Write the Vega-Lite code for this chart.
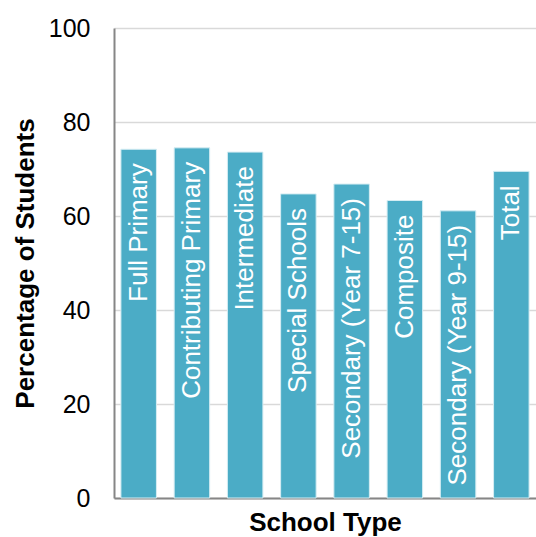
{
  "$schema": "https://vega.github.io/schema/vega-lite/v6.json",
  "autosize": {"type": "none"},
  "padding": {"left": 114, "top": 28, "right": 0, "bottom": 39},
  "width": 422,
  "height": 470,
  "background": "white",
  "config": {
    "font": "Liberation Sans",
    "view": {"stroke": null}
  },
  "data": {
    "values": [
      {"type": "Full Primary", "pct": 74.2},
      {"type": "Contributing Primary", "pct": 74.5},
      {"type": "Intermediate", "pct": 73.6},
      {"type": "Special Schools", "pct": 64.7},
      {"type": "Secondary (Year 7-15)", "pct": 66.8},
      {"type": "Composite", "pct": 63.3},
      {"type": "Secondary (Year 9-15)", "pct": 61.1},
      {"type": "Total", "pct": 69.5}
    ]
  },
  "encoding": {
    "x": {
      "field": "type",
      "type": "nominal",
      "sort": null,
      "scale": {"paddingInner": 0.333, "paddingOuter": 0.13},
      "axis": {
        "title": "School Type",
        "titleFont": "Liberation Sans",
        "titleFontSize": 26,
        "titleFontWeight": "bold",
        "titleColor": "#000000",
        "titleBaseline": "alphabetic",
        "titleY": 32,
        "labels": false,
        "ticks": false,
        "domainColor": "#868686",
        "domainWidth": 2
      }
    },
    "y": {
      "field": "pct",
      "type": "quantitative",
      "scale": {"domain": [0, 100], "nice": false},
      "axis": {
        "title": "Percentage of Students",
        "titleFont": "Liberation Sans",
        "titleFontSize": 26,
        "titleFontWeight": "bold",
        "titleColor": "#000000",
        "titleBaseline": "alphabetic",
        "titleX": -81,
        "values": [0, 20, 40, 60, 80, 100],
        "labelFontSize": 25,
        "labelColor": "#000000",
        "labelPadding": 24,
        "ticks": false,
        "grid": true,
        "gridColor": "#d9d9d9",
        "gridWidth": 1.5,
        "domainColor": "#868686",
        "domainWidth": 2
      }
    }
  },
  "layer": [
    {
      "mark": {"type": "bar", "color": "#4bacc6", "stroke": "#d6edf3", "strokeWidth": 1}
    },
    {
      "mark": {
        "type": "text",
        "angle": 270,
        "align": "right",
        "baseline": "middle",
        "dx": -14,
        "fontSize": 26,
        "color": "white"
      },
      "encoding": {"text": {"field": "type"}}
    }
  ]
}
